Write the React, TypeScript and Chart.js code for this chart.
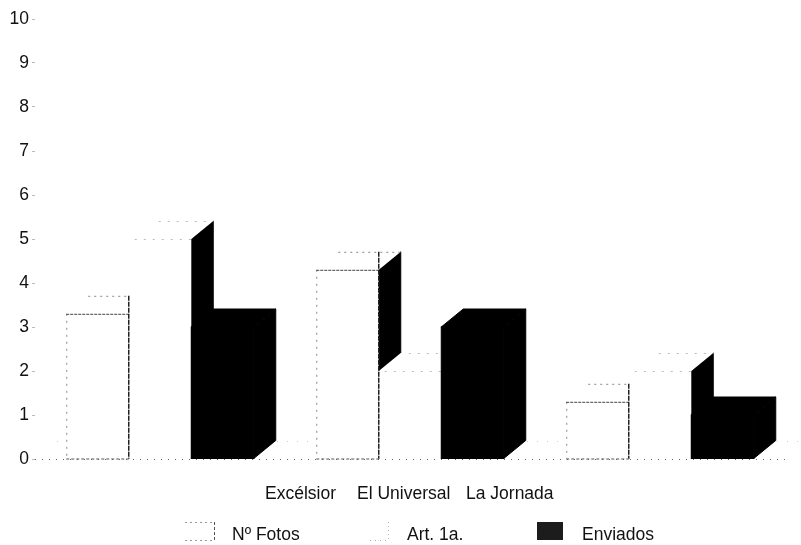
import React, { useEffect, useRef } from "react";
import { Chart, registerables } from "chart.js";

Chart.register(...registerables);

const categories = ["Excélsior", "El Universal", "La Jornada"];
const seriesNames = ["Nº Fotos", "Art. 1a.", "Enviados"];
const fotos = [3.3, 4.3, 1.3];
const articulos = [5, 2, 2];
const enviados = [3, 3, 1];

const FONT = '17.5px "Liberation Sans", Arial, sans-serif';
const DX = 22;
const DY = 18;

function dashedLine(ctx: CanvasRenderingContext2D, x0: number, y0: number, x1: number, y1: number, color: string, dash: number[], w = 1) {
  ctx.save();
  ctx.strokeStyle = color;
  ctx.lineWidth = w;
  ctx.setLineDash(dash);
  ctx.beginPath();
  ctx.moveTo(x0, y0);
  ctx.lineTo(x1, y1);
  ctx.stroke();
  ctx.restore();
}

function poly(ctx: CanvasRenderingContext2D, pts: number[][], fill: string) {
  ctx.fillStyle = fill;
  ctx.beginPath();
  pts.forEach((p, i) => (i ? ctx.lineTo(p[0], p[1]) : ctx.moveTo(p[0], p[1])));
  ctx.closePath();
  ctx.fill();
  if (fill === "#000") {
    ctx.strokeStyle = fill;
    ctx.lineWidth = 1;
    ctx.setLineDash([]);
    ctx.stroke();
  }
}

const depthPlugin = {
  id: "depth",
  // The library's own bar elements are painted below, back to front, between their 3D faces.
  beforeDatasetDraw() {
    return false;
  },
  afterDatasetsDraw(chart: any) {
    const ctx = chart.ctx;
    const { left, right } = chart.chartArea;
    const y0 = chart.scales.y.getPixelForValue(0);
    dashedLine(ctx, left, y0 + 0.5, right, y0 + 0.5, "#666", [1, 6]);
    dashedLine(ctx, left + DX, y0 - DY + 0.5, right + DX, y0 - DY + 0.5, "#ccc", [1, 9]);

    [0, 1, 2].forEach((i) => {
      chart.getDatasetMeta(i).data.forEach((el: any) => {
        const l = el.x - el.width / 2;
        const r = el.x + el.width / 2;
        const t = el.y;
        const b = el.base;
        poly(ctx, [[r, t], [r + DX, t - DY], [r + DX, b - DY], [r, b]], "#000");
        poly(ctx, [[l, t], [l + DX, t - DY], [r + DX, t - DY], [r, t]], i === 2 ? "#000" : "#fff");
        if (i === 0) dashedLine(ctx, l + DX, t - DY + 0.5, r + DX, t - DY + 0.5, "#888", [2, 4]);
        if (i === 1) dashedLine(ctx, l + 30, t - DY + 0.5, r + DX, t - DY + 0.5, "#bbb", [2, 7]);
        el.draw(ctx);
        if (i === 2) {
          ctx.strokeStyle = "#000";
          ctx.lineWidth = 1;
          ctx.strokeRect(l, t, r - l, b - t);
        }
        if (i === 0) {
          dashedLine(ctx, l + 0.5, t, l + 0.5, b, "#888", [2, 5]);
          dashedLine(ctx, l, t + 0.5, r, t + 0.5, "#444", [3, 1]);
          dashedLine(ctx, l, b + 0.5, r, b + 0.5, "#555", [3, 2]);
        }
        if (i === 1) {
          dashedLine(ctx, l + 6, t + 0.5, r, t + 0.5, "#bbb", [2, 7]);
        }
      });
    });

    chart.getDatasetMeta(0).data.forEach((el: any) => {
      const r = el.x + el.width / 2;
      dashedLine(ctx, r, el.y - DY, r, el.base, "#222", [5, 1], 1.5);
    });

    ctx.save();
    ctx.font = FONT;
    ctx.fillStyle = "#111";
    ctx.textBaseline = "alphabetic";
    ctx.textAlign = "left";
    const labelX = [265, 357, 466];
    categories.forEach((c, i) => ctx.fillText(c, labelX[i], 499));

    const textX = [232, 407, 582];
    seriesNames.forEach((s, i) => ctx.fillText(s, textX[i], 540));

    dashedLine(ctx, 185, 522.5, 215, 522.5, "#999", [2, 3]);
    dashedLine(ctx, 185, 540.5, 215, 540.5, "#999", [2, 3]);
    dashedLine(ctx, 214.5, 522, 214.5, 541, "#555", [3, 2]);
    dashedLine(ctx, 370, 540.5, 388, 540.5, "#aaa", [1, 4]);
    dashedLine(ctx, 388.5, 522, 388.5, 541, "#bbb", [1, 3]);
    ctx.fillStyle = "#1c1c1c";
    ctx.fillRect(537, 522, 26, 18);
    ctx.restore();
  },
};

export default function App() {
  const ref = useRef<HTMLCanvasElement>(null);
  useEffect(() => {
    const chart = new Chart(ref.current as HTMLCanvasElement, {
      type: "bar",
      data: {
        labels: categories,
        datasets: [
          { label: seriesNames[0], data: fotos, backgroundColor: "#fff" },
          { label: seriesNames[1], data: articulos, backgroundColor: "#fff" },
          { label: seriesNames[2], data: enviados, backgroundColor: "#000" },
        ],
      },
      options: {
        responsive: false,
        animation: false,
        layout: { padding: { top: 19, right: 16, bottom: 86, left: 0 } },
        plugins: { legend: { display: false }, tooltip: { enabled: false } },
        scales: {
          x: {
            display: false,
            grid: { display: false },
          },
          y: {
            min: 0,
            max: 10,
            afterFit: (s: any) => { s.width = 35; s.paddingTop = 0; s.paddingBottom = 0; },
            border: { display: false },
            grid: { drawOnChartArea: false, drawTicks: true, tickLength: 3, color: "#bbb" },
            ticks: {
              stepSize: 1,
              padding: 3,
              color: "#111",
              font: { family: '"Liberation Sans", Arial, sans-serif', size: 17.5 },
            },
          },
        },
        datasets: { bar: { barPercentage: 1, categoryPercentage: 0.75 } },
      } as any,
      plugins: [depthPlugin],
    });
    return () => chart.destroy();
  }, []);
  return (
    <canvas
      ref={ref}
      width={801}
      height={545}
      style={{ position: "absolute", left: 0, top: 0, width: 801, height: 545, display: "block" }}
    />
  );
}
